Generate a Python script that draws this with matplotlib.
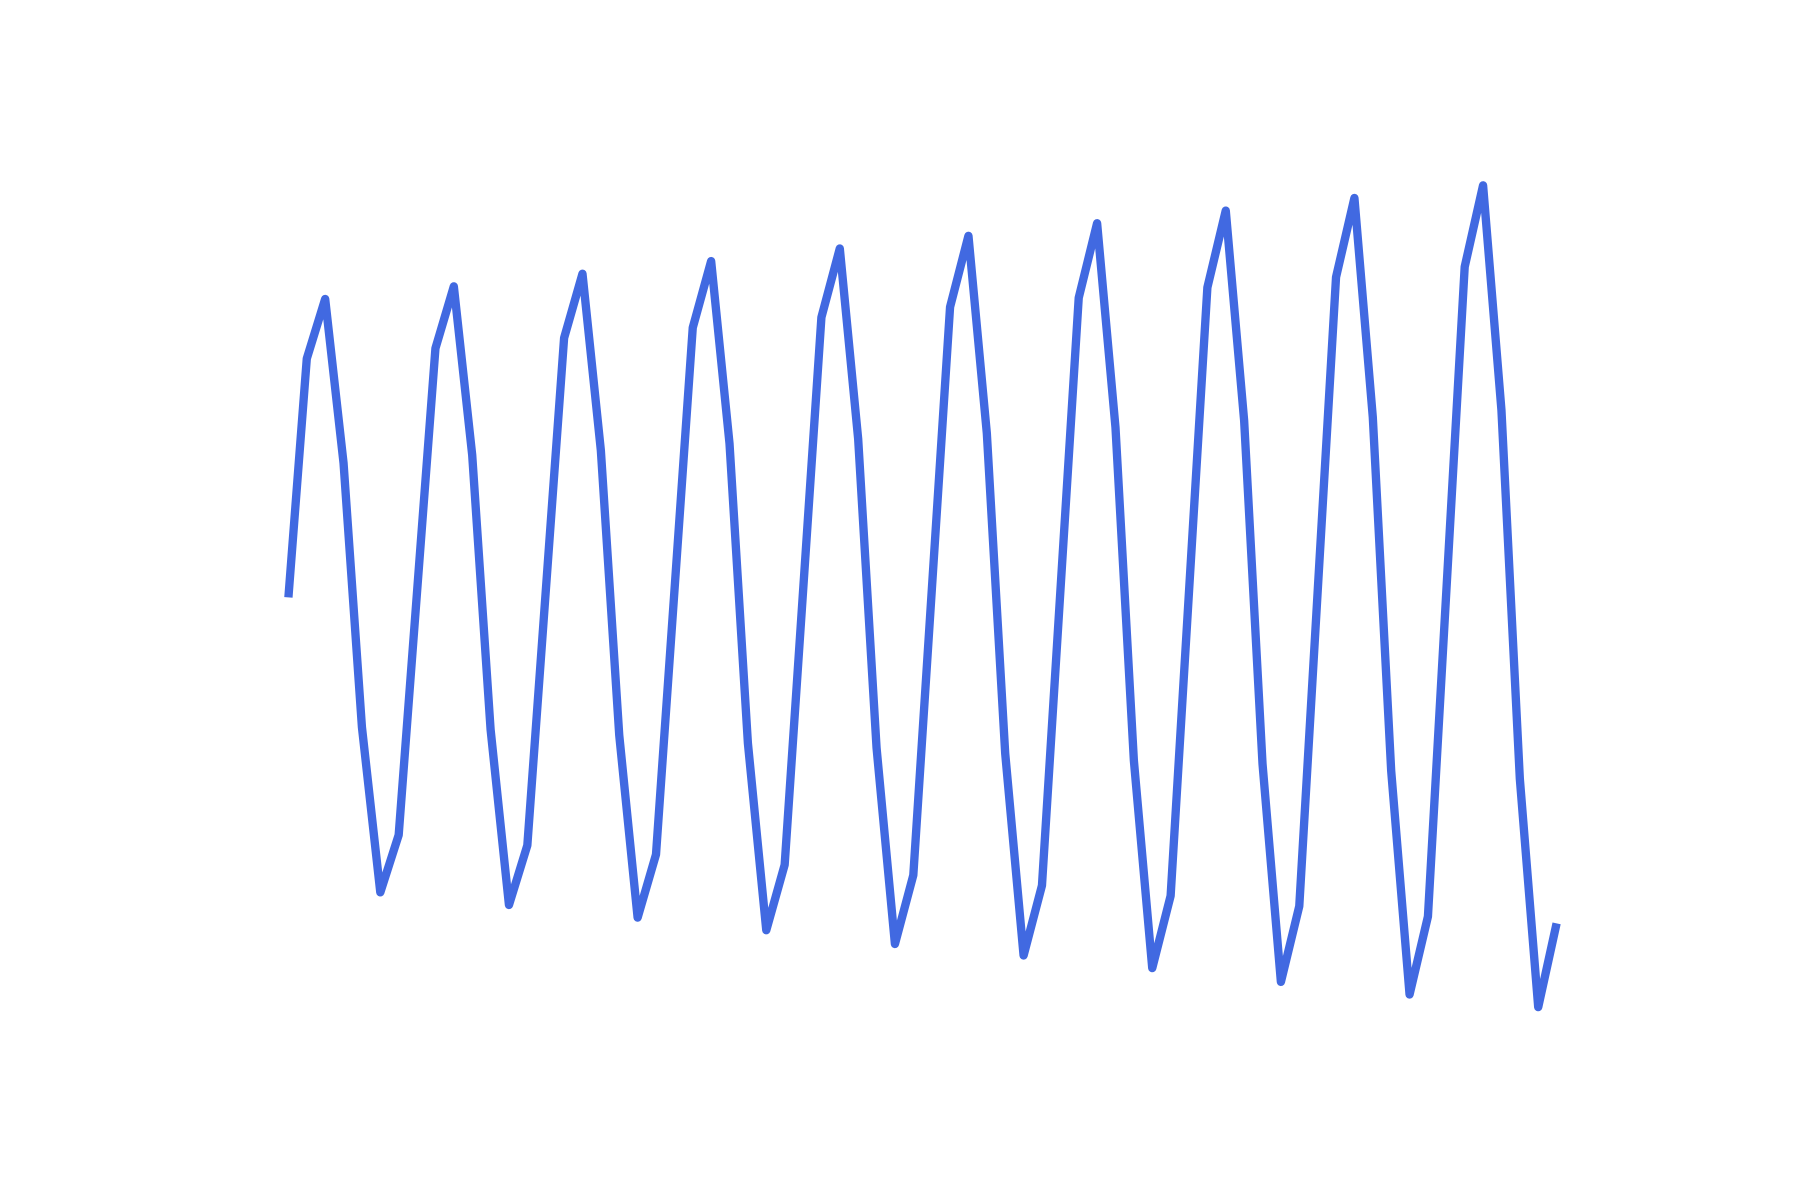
import matplotlib
matplotlib.use("Agg")
import matplotlib.pyplot as plt

# Sample index and signal values (arbitrary units)
steps = list(range(70))
values = [
    0, 208, 260, 117, -113, -257, -207,
    5, 217, 271, 124, -115, -268, -216,
    5, 226, 282, 128, -120, -279, -224,
    5, 235, 293, 134, -127, -290, -233,
    5, 244, 304, 138, -131, -302, -242,
    5, 253, 315, 143, -136, -312, -251,
    5, 261, 326, 148, -142, -323, -260,
    5, 270, 337, 154, -145, -335, -269,
    5, 279, 348, 157, -151, -346, -278,
    5, 288, 359, 163, -158, -357, -284,
]

fig, ax = plt.subplots(figsize=(6, 4), dpi=300)
ax.plot(steps, values, color="#4169E1", linewidth=2.0,
        solid_joinstyle="round", solid_capstyle="butt")
ax.set_ylim(-410, 395)
ax.axis("off")
fig.savefig("out.png", dpi=300, facecolor="white")
